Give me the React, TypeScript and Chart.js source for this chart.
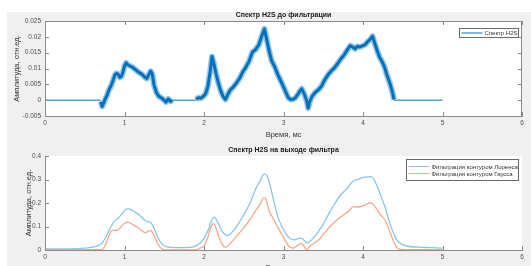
import React, { useEffect, useRef } from 'react';
import { Chart, registerables } from 'chart.js';

Chart.register(...registerables);

const FONT = '"Liberation Sans", Arial, sans-serif';
const AXIS = '#8a8a8a';
const TICK_TXT = '#505050';
const LABEL_TXT = '#333333';
const BLUE = '#0072BD';
const BLUE_HALO = 'rgba(0,114,189,0.4)';
const LIGHT_BLUE = '#8cc3ea';
const LIGHT_ORANGE = '#f2a98c';

// ---------- shared ----------
const xTicks = [0, 1, 2, 3, 4, 5, 6];
const xLabel = 'Время, мс';
const yLabel = 'Амплитуда, отн.ед.';

// ---------- top chart ----------
const topTitle = 'Спектр H2S до фильтрации';
const topLegend = 'Спектр H2S';
const topYTicks = [-0.005, 0, 0.005, 0.01, 0.015, 0.02, 0.025];
// flat (zero) parts of the spectrum; null = gap
const topBaseX = [0, 0.7, 0.7, 1.6, 1.9, 1.9, 4.39, 5.0];
const topBaseY: (number | null)[] = [0, 0, null, 0, 0, null, 0, 0];
// noisy band centre (first lobe)
const topLobe1X = [0.7, 0.72, 0.74, 0.76, 0.78, 0.8, 0.83, 0.86, 0.88, 0.9, 0.92, 0.94, 0.96, 0.98, 1.0, 1.02, 1.04, 1.07, 1.1, 1.13, 1.16, 1.19, 1.22, 1.25, 1.28, 1.3, 1.33, 1.35, 1.37, 1.4, 1.43, 1.46, 1.49, 1.52, 1.55, 1.58, 1.6];
const topLobe1Y = [-0.0005, -0.002, -0.0008, 0.0005, 0.0015, 0.003, 0.0045, 0.0065, 0.008, 0.0085, 0.0082, 0.0072, 0.0075, 0.0088, 0.0108, 0.0118, 0.0112, 0.0108, 0.0104, 0.0098, 0.0092, 0.0086, 0.0082, 0.0074, 0.0068, 0.0078, 0.0092, 0.0082, 0.005, 0.0025, 0.0012, 0.0008, 0.0002, -0.0006, 0.0004, -0.0004, 0.0];
// noisy band centre (second and third lobes)
const topLobe2X = [1.9, 1.93, 1.96, 1.99, 2.02, 2.05, 2.08, 2.1, 2.12, 2.15, 2.18, 2.21, 2.24, 2.27, 2.3, 2.33, 2.37, 2.41, 2.45, 2.49, 2.53, 2.57, 2.61, 2.65, 2.69, 2.73, 2.76, 2.79, 2.82, 2.85, 2.89, 2.93, 2.96, 3.0, 3.03, 3.06, 3.09, 3.12, 3.15, 3.18, 3.21, 3.23, 3.26, 3.29, 3.31, 3.33, 3.36, 3.4, 3.44, 3.48, 3.52, 3.56, 3.6, 3.64, 3.68, 3.72, 3.76, 3.8, 3.84, 3.87, 3.9, 3.93, 3.96, 4.0, 4.03, 4.06, 4.09, 4.12, 4.15, 4.18, 4.21, 4.24, 4.27, 4.3, 4.34, 4.37, 4.39];
const topLobe2Y = [0.0003, 0.0008, 0.0006, 0.0012, 0.002, 0.0045, 0.0095, 0.0138, 0.012, 0.0085, 0.0055, 0.003, 0.0012, 0.0002, 0.0018, 0.0032, 0.0042, 0.0055, 0.007, 0.009, 0.0105, 0.0125, 0.0152, 0.016, 0.0175, 0.0205, 0.0225, 0.019, 0.0155, 0.0125, 0.0105, 0.008, 0.0064, 0.0042, 0.0025, 0.0008, 0.0002, 0.0003, 0.0008, 0.0018, 0.003, 0.0036, 0.002, 0.0, -0.0025, -0.0005, 0.0012, 0.0025, 0.0033, 0.0045, 0.0065, 0.008, 0.0092, 0.0102, 0.0115, 0.013, 0.0142, 0.0158, 0.0172, 0.0168, 0.0162, 0.017, 0.0168, 0.0172, 0.0176, 0.0185, 0.0192, 0.0202, 0.0178, 0.0155, 0.0135, 0.0122, 0.0105, 0.008, 0.0052, 0.0025, 0.0002];

// ---------- bottom chart ----------
const botTitle = 'Спектр H2S на выходе фильтра';
const lorLabel = 'Фильтрация контуром Лоренса';
const gauLabel = 'Фильтрация контуром Гаусса';
const botYTicks = [0, 0.1, 0.2, 0.3, 0.4];
const lorX = [0, 0.3, 0.5, 0.6, 0.68, 0.73, 0.78, 0.83, 0.87, 0.92, 0.97, 1.02, 1.06, 1.1, 1.15, 1.2, 1.25, 1.3, 1.33, 1.37, 1.41, 1.45, 1.5, 1.55, 1.7, 1.85, 1.92, 1.97, 2.02, 2.07, 2.1, 2.13, 2.17, 2.21, 2.26, 2.3, 2.35, 2.42, 2.5, 2.58, 2.65, 2.7, 2.75, 2.78, 2.82, 2.87, 2.93, 2.98, 3.03, 3.08, 3.13, 3.18, 3.22, 3.26, 3.3, 3.35, 3.42, 3.5, 3.58, 3.65, 3.72, 3.8, 3.87, 3.93, 4.0, 4.06, 4.1, 4.13, 4.18, 4.23, 4.28, 4.33, 4.38, 4.42, 4.47, 4.55, 4.7, 4.85, 5.0];
const lorY = [0.005, 0.005, 0.008, 0.012, 0.02, 0.035, 0.065, 0.1, 0.122, 0.135, 0.155, 0.174, 0.175, 0.168, 0.158, 0.145, 0.128, 0.12, 0.117, 0.095, 0.06, 0.035, 0.018, 0.012, 0.01, 0.012, 0.022, 0.035, 0.06, 0.1, 0.13, 0.14, 0.12, 0.09, 0.067, 0.062, 0.075, 0.105, 0.15, 0.2, 0.26, 0.29, 0.322, 0.322, 0.29, 0.22, 0.14, 0.1, 0.07, 0.05, 0.043, 0.048, 0.052, 0.04, 0.03, 0.042, 0.07, 0.11, 0.16, 0.2, 0.235, 0.262, 0.292, 0.3, 0.308, 0.311, 0.312, 0.305, 0.27, 0.225, 0.18, 0.12, 0.075, 0.045, 0.028, 0.017, 0.012, 0.01, 0.008];
const gauX = [0, 0.7, 0.73, 0.77, 0.81, 0.85, 0.89, 0.93, 0.98, 1.03, 1.07, 1.12, 1.17, 1.22, 1.26, 1.3, 1.33, 1.36, 1.4, 1.44, 1.48, 1.52, 1.9, 1.95, 2.0, 2.05, 2.09, 2.12, 2.16, 2.2, 2.24, 2.27, 2.32, 2.4, 2.5, 2.58, 2.65, 2.7, 2.75, 2.78, 2.82, 2.87, 2.93, 2.98, 3.03, 3.07, 3.12, 3.17, 3.22, 3.26, 3.29, 3.33, 3.38, 3.45, 3.52, 3.6, 3.68, 3.75, 3.82, 3.88, 3.95, 4.02, 4.08, 4.12, 4.17, 4.22, 4.28, 4.33, 4.38, 4.42, 4.47, 4.6, 5.0];
const gauY = [0.001, 0.001, 0.005, 0.03, 0.065, 0.085, 0.083, 0.088, 0.108, 0.118, 0.116, 0.105, 0.095, 0.082, 0.074, 0.08, 0.083, 0.07, 0.04, 0.015, 0.003, 0.0, 0.0, 0.008, 0.018, 0.055, 0.1, 0.112, 0.085, 0.045, 0.018, 0.012, 0.025, 0.055, 0.095, 0.13, 0.168, 0.19, 0.222, 0.215, 0.165, 0.135, 0.095, 0.065, 0.035, 0.015, 0.008, 0.018, 0.028, 0.015, 0.0, 0.015, 0.028, 0.045, 0.075, 0.105, 0.13, 0.148, 0.165, 0.185, 0.183, 0.19, 0.2, 0.197, 0.175, 0.15, 0.125, 0.085, 0.04, 0.012, 0.003, 0.002, 0.002];

const pts = (xs: number[], ys: (number | null)[]) => xs.map((x, i) => ({ x, y: ys[i] }));

type LegendItem = { label: string; color: string };
type DecorCfg = {
  title: string;
  box: boolean;
  legend: LegendItem[];
  legendW: number;
  legendTop: number;
};

function decorPlugin(cfg: DecorCfg) {
  return {
    id: 'decor',
    beforeDraw(chart: any) {
      const { ctx, chartArea: ca } = chart;
      ctx.save();
      ctx.fillStyle = '#ffffff';
      ctx.fillRect(ca.left, ca.top, ca.right - ca.left, ca.bottom - ca.top);
      ctx.restore();
    },
    afterDraw(chart: any) {
      const { ctx, chartArea: ca, scales } = chart;
      const xs = scales.x;
      const ys = scales.y;
      const L = 4;
      ctx.save();
      ctx.strokeStyle = AXIS;
      ctx.lineWidth = 1;
      ctx.beginPath();
      for (const t of xs.ticks) {
        const p = Math.round(xs.getPixelForValue(t.value)) + 0.5;
        ctx.moveTo(p, ca.bottom);
        ctx.lineTo(p, ca.bottom - L);
        if (cfg.box) {
          ctx.moveTo(p, ca.top);
          ctx.lineTo(p, ca.top + L);
        }
      }
      for (const t of ys.ticks) {
        const p = Math.round(ys.getPixelForValue(t.value)) + 0.5;
        ctx.moveTo(ca.left, p);
        ctx.lineTo(ca.left + L, p);
        if (cfg.box) {
          ctx.moveTo(ca.right, p);
          ctx.lineTo(ca.right - L, p);
        }
      }
      if (cfg.box) {
        const t = Math.round(ca.top) + 0.5;
        const r = Math.round(ca.right) - 0.5;
        ctx.moveTo(ca.left, t);
        ctx.lineTo(ca.right, t);
        ctx.moveTo(r, ca.top);
        ctx.lineTo(r, ca.bottom);
      }
      ctx.stroke();

      // title
      ctx.fillStyle = '#1a1a1a';
      ctx.font = `bold 7px ${FONT}`;
      ctx.textAlign = 'center';
      ctx.textBaseline = 'middle';
      ctx.fillText(cfg.title, (ca.left + ca.right) / 2, ca.top - 6);

      // legend
      const n = cfg.legend.length;
      const bh = n === 1 ? 9 : 21;
      const bx = Math.round(ca.right - 4 - cfg.legendW) + 0.5;
      const by = Math.round(ca.top + cfg.legendTop) + 0.5;
      ctx.fillStyle = '#ffffff';
      ctx.fillRect(bx, by, cfg.legendW, bh);
      ctx.strokeStyle = '#6a6a6a';
      ctx.lineWidth = 1;
      ctx.strokeRect(bx, by, cfg.legendW, bh);
      ctx.font = `6px ${FONT}`;
      ctx.textAlign = 'left';
      cfg.legend.forEach((it, i) => {
        const ly = n === 1 ? by + 4.5 : by + 7 + i * 7;
        ctx.strokeStyle = it.color;
        ctx.lineWidth = 1;
        ctx.beginPath();
        ctx.moveTo(bx + 2, ly);
        ctx.lineTo(bx + 23, ly);
        ctx.stroke();
        ctx.fillStyle = '#333333';
        ctx.fillText(it.label, bx + 25, ly + 0.5);
      });
      ctx.restore();
    },
  };
}

function makeScales(yTicks: number[], yMin: number, yMax: number, xHeight: number, xTitlePad: number, yTitlePad: number) {
  return {
    x: {
      type: 'linear' as const,
      min: 0,
      max: 6,
      afterBuildTicks: (s: any) => {
        s.ticks = xTicks.map((v) => ({ value: v }));
      },
      afterFit: (s: any) => {
        s.height = xHeight;
      },
      grid: { display: true, drawOnChartArea: false, drawTicks: false, tickLength: 0 },
      border: { display: true, color: AXIS, width: 1 },
      ticks: {
        padding: 3,
        autoSkip: false,
        maxRotation: 0,
        color: TICK_TXT,
        font: { size: 6.5, family: FONT },
        callback: (v: any) => String(v),
      },
      title: {
        display: true,
        text: xLabel,
        color: LABEL_TXT,
        font: { size: 7.5, family: FONT, lineHeight: 1.2 },
        padding: { top: 0, bottom: xTitlePad },
      },
    },
    y: {
      type: 'linear' as const,
      min: yMin,
      max: yMax,
      afterBuildTicks: (s: any) => {
        s.ticks = yTicks.map((v) => ({ value: v }));
      },
      afterFit: (s: any) => {
        s.width = 38;
      },
      grid: { display: true, drawOnChartArea: false, drawTicks: false, tickLength: 0 },
      border: { display: true, color: AXIS, width: 1 },
      ticks: {
        padding: 4,
        autoSkip: false,
        color: TICK_TXT,
        font: { size: 6.5, family: FONT },
        callback: (v: any) => String(v),
      },
      title: {
        display: true,
        text: yLabel,
        color: LABEL_TXT,
        font: { size: 7.5, family: FONT, lineHeight: 1.2 },
        padding: { top: yTitlePad, bottom: 0 },
      },
    },
  };
}

const bandSet = (xs: number[], ys: number[], color: string, width: number) => ({
  label: topLegend,
  data: pts(xs, ys),
  borderColor: color,
  borderWidth: width,
  borderJoinStyle: 'round' as const,
  pointRadius: 0,
});

function TopChart() {
  const ref = useRef<HTMLCanvasElement>(null);
  useEffect(() => {
    const chart = new Chart(ref.current!, {
      type: 'line',
      data: {
        datasets: [
          {
            label: topLegend,
            data: pts(topBaseX, topBaseY),
            borderColor: BLUE,
            borderWidth: 1,
            pointRadius: 0,
            spanGaps: false,
          },
          bandSet(topLobe1X, topLobe1Y, BLUE_HALO, 6),
          bandSet(topLobe2X, topLobe2Y, BLUE_HALO, 6),
          bandSet(topLobe1X, topLobe1Y, BLUE, 3),
          bandSet(topLobe2X, topLobe2Y, BLUE, 3),
        ] as any,
      },
      options: {
        responsive: false,
        animation: false,
        devicePixelRatio: 1,
        layout: { padding: { left: 0, right: 9, top: 9, bottom: 0 } },
        plugins: { legend: { display: false }, title: { display: false }, tooltip: { enabled: false } },
        scales: makeScales(topYTicks, -0.005, 0.025, 24, 0.5, 5.5) as any,
      },
      plugins: [
        decorPlugin({
          title: topTitle,
          box: true,
          legend: [{ label: topLegend, color: BLUE }],
          legendW: 59,
          legendTop: 7,
        }) as any,
      ],
    });
    return () => chart.destroy();
  }, []);
  return (
    <canvas
      ref={ref}
      width={524}
      height={128}
      style={{ position: 'absolute', left: 0, top: 0, width: 524, height: 128 }}
    />
  );
}

function BottomChart() {
  const ref = useRef<HTMLCanvasElement>(null);
  useEffect(() => {
    const chart = new Chart(ref.current!, {
      type: 'line',
      data: {
        datasets: [
          {
            label: lorLabel,
            data: pts(lorX, lorY),
            borderColor: LIGHT_BLUE,
            borderWidth: 1.3,
            pointRadius: 0,
            cubicInterpolationMode: 'monotone',
          },
          {
            label: gauLabel,
            data: pts(gauX, gauY),
            borderColor: LIGHT_ORANGE,
            borderWidth: 1.3,
            pointRadius: 0,
            cubicInterpolationMode: 'monotone',
          },
        ],
      },
      options: {
        responsive: false,
        animation: false,
        devicePixelRatio: 1,
        layout: { padding: { left: 0, right: 9, top: 16, bottom: 0 } },
        plugins: { legend: { display: false }, title: { display: false }, tooltip: { enabled: false } },
        scales: makeScales(botYTicks, 0, 0.4, 30, 7.5, 17.5) as any,
      },
      plugins: [
        decorPlugin({
          title: botTitle,
          box: false,
          legend: [
            { label: lorLabel, color: LIGHT_BLUE },
            { label: gauLabel, color: LIGHT_ORANGE },
          ],
          legendW: 112,
          legendTop: 3,
        }) as any,
      ],
    });
    return () => chart.destroy();
  }, []);
  return (
    <canvas
      ref={ref}
      width={524}
      height={140}
      style={{ position: 'absolute', left: 0, top: 128, width: 524, height: 140 }}
    />
  );
}

export default function App() {
  return (
    <div
      style={{
        position: 'fixed',
        left: 0,
        top: 0,
        width: 531,
        height: 266,
        overflow: 'hidden',
        background: '#ffffff',
      }}
    >
      <div
        style={{
          position: 'absolute',
          left: 7,
          top: 12,
          width: 524,
          height: 254,
          overflow: 'hidden',
          background: '#f0f0f0',
        }}
      >
        <TopChart />
        <BottomChart />
      </div>
    </div>
  );
}
